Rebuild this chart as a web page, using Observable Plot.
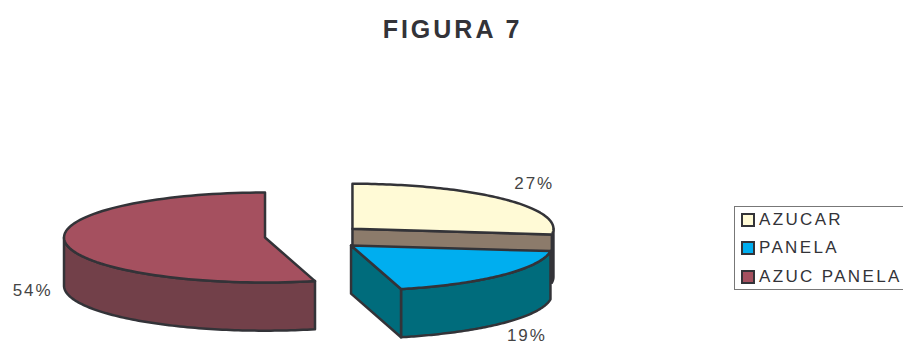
<!DOCTYPE html>
<html>
<head>
<meta charset="utf-8">
<script src="https://cdn.jsdelivr.net/npm/d3@7"></script>
<script src="https://cdn.jsdelivr.net/npm/@observablehq/plot@0.6"></script>
<style>
  html, body { margin: 0; background: #fff; overflow: hidden; }
  #chart { position: relative; width: 903px; height: 344px; font-family: "Liberation Sans", Arial, sans-serif; color: #333338; }
  #chart svg { position: absolute; left: 0; top: 0; }
  #chart svg text { letter-spacing: 1.9px; }
  #title { position: absolute; left: 1px; width: 903px; top: 14px; text-align: center; font-size: 25px; line-height: 30px; font-weight: bold; letter-spacing: 3px; }
  #legend { position: absolute; left: 734px; top: 206px; width: 170px; height: 84px; border: 1.5px solid #777; box-sizing: border-box; }
  .entry { position: absolute; left: 5px; font-size: 17px; line-height: 20px; letter-spacing: 2.35px; white-space: nowrap; padding-left: 19px; }
  .entry i { position: absolute; left: 1px; top: 3px; width: 14px; height: 14px; box-sizing: border-box; border: 2.5px solid #333338; }
</style>
</head>
<body>
<div id="chart">
  <div id="title">FIGURA 7</div>
  <div id="legend"></div>
</div>
<script>
// Shares of the three sweetener categories, in percent
const categories = ["AZUCAR", "PANELA", "AZUC PANELA"];
const shares = [27, 19, 54];

// Fill colours per category: top face, outer wall, cut face
const topColors = ["#fffad6", "#00aeef", "#a5505f"];
const wallColors = ["#4a4a42", "#006c7c", "#724049"];
const cutColors = ["#8c7b6b", "#006c7c", "#724049"];

// Pie geometry in radius units: one x unit and one y unit are the ellipse's semi-axes
const radiusX = 201, radiusY = 45, width = 903, height = 344;
const depth = 1.07;
const centers = [[1.751, 5.072], [1.744, 5.444], [1.316, 5.267]];
const labelNudge = [[31, -15], [25, 12], [-33, -1]];

// Slice angles run clockwise from twelve o'clock
const total = d3.sum(shares);
const cumulative = d3.cumsum(shares);
const angleAt = (pct) => (pct / total) * 2 * Math.PI;
const slices = categories.map((name, i) => ({
  name, i,
  a0: angleAt(i ? cumulative[i - 1] : 0),
  a1: angleAt(cumulative[i]),
  cx: centers[i][0],
  cy: centers[i][1]
}));

const rim = (s, a) => ({x: s.cx + Math.sin(a), y: s.cy - Math.cos(a)});
const drop = (p) => ({x: p.x, y: p.y + depth});
const arc = (s, from, to) => d3.range(0, 1.0001, 1 / 90).map((t) => rim(s, from + (to - from) * t));
const closed = (pts) => [...pts, pts[0]];

const topFace = (s) => closed([{x: s.cx, y: s.cy}, ...arc(s, s.a0, s.a1)]);

// Outer wall covers only the front half of the ellipse, where the rim faces the viewer
function wallFace(s) {
  const from = Math.max(s.a0, Math.PI / 2);
  const to = Math.min(s.a1, 1.5 * Math.PI);
  if (to <= from) return [];
  const upper = arc(s, from, to);
  return closed([...upper, ...upper.slice().reverse().map(drop)]);
}

// Vertical cut running from the centre to a rim point
function cutFace(s, a) {
  const c = {x: s.cx, y: s.cy}, r = rim(s, a);
  return closed([c, r, drop(r), drop(c)]);
}

const edge = {stroke: "#333338", strokeWidth: 2.5, strokeLinejoin: "round"};
const face = (pts, fill) => Plot.line(pts, {x: "x", y: "y", fill, ...edge});

const [sugar, panela, mixed] = slices;
const marks = [
  // Mixed slice
  face(wallFace(mixed), wallColors[2]),
  face(topFace(mixed), topColors[2]),
  // Sugar slice, with the cut face showing above the panela slice
  face(wallFace(sugar), wallColors[0]),
  face(cutFace(sugar, sugar.a1), cutColors[0]),
  face(topFace(sugar), topColors[0]),
  // Panela slice in front
  face(wallFace(panela), wallColors[1]),
  face(cutFace(panela, panela.a1), cutColors[1]),
  face(topFace(panela), topColors[1])
];

// Percentage labels placed from each slice's mid angle
slices.forEach((s) => {
  const mid = (s.a0 + s.a1) / 2;
  const p = rim(s, mid);
  const lower = Math.cos(mid) < 0.2;
  marks.push(Plot.text([{...p, y: p.y + (lower ? depth : 0), label: shares[s.i] + "%"}], {
    x: "x", y: "y", text: "label",
    dx: labelNudge[s.i][0],
    dy: labelNudge[s.i][1],
    fontSize: 17, fill: "#444", textAnchor: "middle",
    fontFamily: "Liberation Sans, Arial, sans-serif"
  }));
});

const chart = Plot.plot({
  width, height,
  margin: 0,
  x: {domain: [0, width / radiusX], range: [0, width], axis: null},
  y: {domain: [0, height / radiusY], range: [0, height], axis: null},
  style: {background: "transparent", overflow: "visible"},
  marks
});
document.getElementById("chart").prepend(chart);

// Legend
const legend = document.getElementById("legend");
categories.forEach((name, i) => {
  const row = document.createElement("div");
  row.className = "entry";
  row.style.top = (2.5 + i * 28.5) + "px";
  row.innerHTML = `<i style="background:${topColors[i]}"></i>${name}`;
  legend.appendChild(row);
});
</script>
</body>
</html>
